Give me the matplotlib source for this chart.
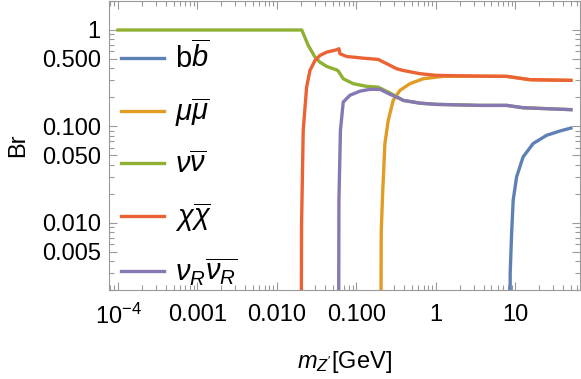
import matplotlib
matplotlib.use('Agg')
import matplotlib.pyplot as plt
from matplotlib.ticker import FixedLocator, NullFormatter

# branching ratios of Z' (mass in GeV)
mass_b = [8.53, 8.6, 8.96, 9.38, 10.35, 12.5, 16.7, 24.7, 36.3, 50]
br_b = [1e-5, 0.003, 0.0077, 0.0171, 0.0298, 0.0481, 0.0662, 0.0807, 0.0894, 0.096]

mass_mu = [0.200, 0.205, 0.2136, 0.228, 0.251, 0.290, 0.352, 0.471, 0.692, 1.235, 3.58, 7.8, 15.2, 50]
br_mu = [1e-5, 0.008, 0.0201, 0.066, 0.115, 0.186, 0.236, 0.277, 0.312, 0.330, 0.332, 0.330, 0.305, 0.300]

mass_nu = [1e-4, 0.0205, 0.0248, 0.0301, 0.0347, 0.0422, 0.0563, 0.059, 0.0682, 0.0912, 0.134, 0.188,
           0.264, 0.352, 0.388, 0.629, 1.02, 3.58, 7.75, 12.5, 50]
br_nu = [1.0, 1.0, 0.69, 0.523, 0.464, 0.419, 0.385, 0.375, 0.312, 0.277, 0.260, 0.255,
         0.222, 0.194, 0.186, 0.174, 0.169, 0.165, 0.165, 0.156, 0.149]

mass_chi = [0.0199, 0.0204, 0.0214, 0.0236, 0.026, 0.0301, 0.0347, 0.0422, 0.0563, 0.0602, 0.062, 0.0753,
            0.122, 0.188, 0.240, 0.321, 0.388, 0.629, 1.02, 3.58, 7.8, 15.2, 50]
br_chi = [1e-5, 0.01, 0.091, 0.255, 0.380, 0.483, 0.544, 0.589, 0.623, 0.639, 0.567, 0.531,
          0.510, 0.495, 0.447, 0.396, 0.380, 0.352, 0.338, 0.332, 0.330, 0.305, 0.300]

mass_nuR = [0.059, 0.0602, 0.0629, 0.0682, 0.0828, 0.111, 0.148, 0.198, 0.264, 0.352, 0.388, 0.629,
            1.02, 3.58, 7.75, 12.5, 50]
br_nuR = [1e-5, 0.017, 0.091, 0.179, 0.210, 0.232, 0.242, 0.242, 0.215, 0.194, 0.186, 0.174,
          0.169, 0.165, 0.165, 0.156, 0.149]

labels = [r'b$\overline{b}$', r'$\mu\overline{\mu}$', r'$\nu\overline{\nu}$',
          r'$\chi\overline{\chi}$', r'$\nu_R\overline{\nu_R}$']
colors = ['#5E81B5', '#E19C24', '#8FB032', '#EB6235', '#8778B3']

xticks = [1e-4, 1e-3, 1e-2, 1e-1, 1, 10]
xticklabels = [r'$10^{-4}$', '0.001', '0.010', '0.100', '1', '10']
yticks = [0.005, 0.01, 0.05, 0.1, 0.5, 1]
yticklabels = ['0.005', '0.010', '0.050', '0.100', '0.500', '1']

plt.rcParams['font.family'] = ['Liberation Sans', 'DejaVu Sans']
plt.rcParams['mathtext.fontset'] = 'custom'
plt.rcParams['mathtext.rm'] = 'Liberation Sans'
plt.rcParams['mathtext.it'] = 'Liberation Sans:italic'

fig = plt.figure(figsize=(5.81, 3.79), dpi=100)
ax = fig.add_axes([109 / 581, 1 - 290 / 379, 471 / 581, 289 / 379])

series = [(mass_b, br_b), (mass_mu, br_mu), (mass_nu, br_nu), (mass_chi, br_chi), (mass_nuR, br_nuR)]
for (m, br), lab, c in zip(series, labels, colors):
    ax.plot(m, br, color=c, lw=2.4, label=lab)

ax.set_xscale('log')
ax.set_yscale('log')
ax.set_xlim(7.7e-5, 65)
ax.set_ylim(0.002, 2.0)

ax.xaxis.set_major_locator(FixedLocator(xticks))
ax.set_xticklabels(xticklabels)
ax.yaxis.set_major_locator(FixedLocator(yticks))
ax.set_yticklabels(yticklabels)
minor_x = [k * 10.0 ** e for e in range(-5, 2) for k in range(2, 10)]
minor_y = [k * 10.0 ** e for e in range(-3, 1) for k in range(1, 10) if k not in (1, 5)]
ax.xaxis.set_minor_locator(FixedLocator(minor_x))
ax.yaxis.set_minor_locator(FixedLocator(minor_y))
ax.xaxis.set_minor_formatter(NullFormatter())
ax.yaxis.set_minor_formatter(NullFormatter())

ax.tick_params(which='both', direction='in', top=True, right=True, color='#999999',
               labelsize=17, width=0.8)
ax.tick_params(which='major', length=6)
ax.tick_params(which='minor', length=3.5)
ax.tick_params(axis='x', which='major', pad=10)
ax.tick_params(axis='y', which='major', pad=6)
for s in ax.spines.values():
    s.set_color('#999999')

ax.set_xlabel(r"$m_{Z'}$[GeV]", fontsize=17, labelpad=14)
ax.set_ylabel('Br', fontsize=17)
ax.yaxis.set_label_coords(-0.17, 0.5)

ax.legend(loc='upper left', bbox_to_anchor=(0.0, 0.902), frameon=False, fontsize=21,
          handlelength=1.5, handletextpad=0.35, labelspacing=0.75, borderaxespad=0.0)

plt.savefig('out.png', dpi=100)
plt.close('all')
